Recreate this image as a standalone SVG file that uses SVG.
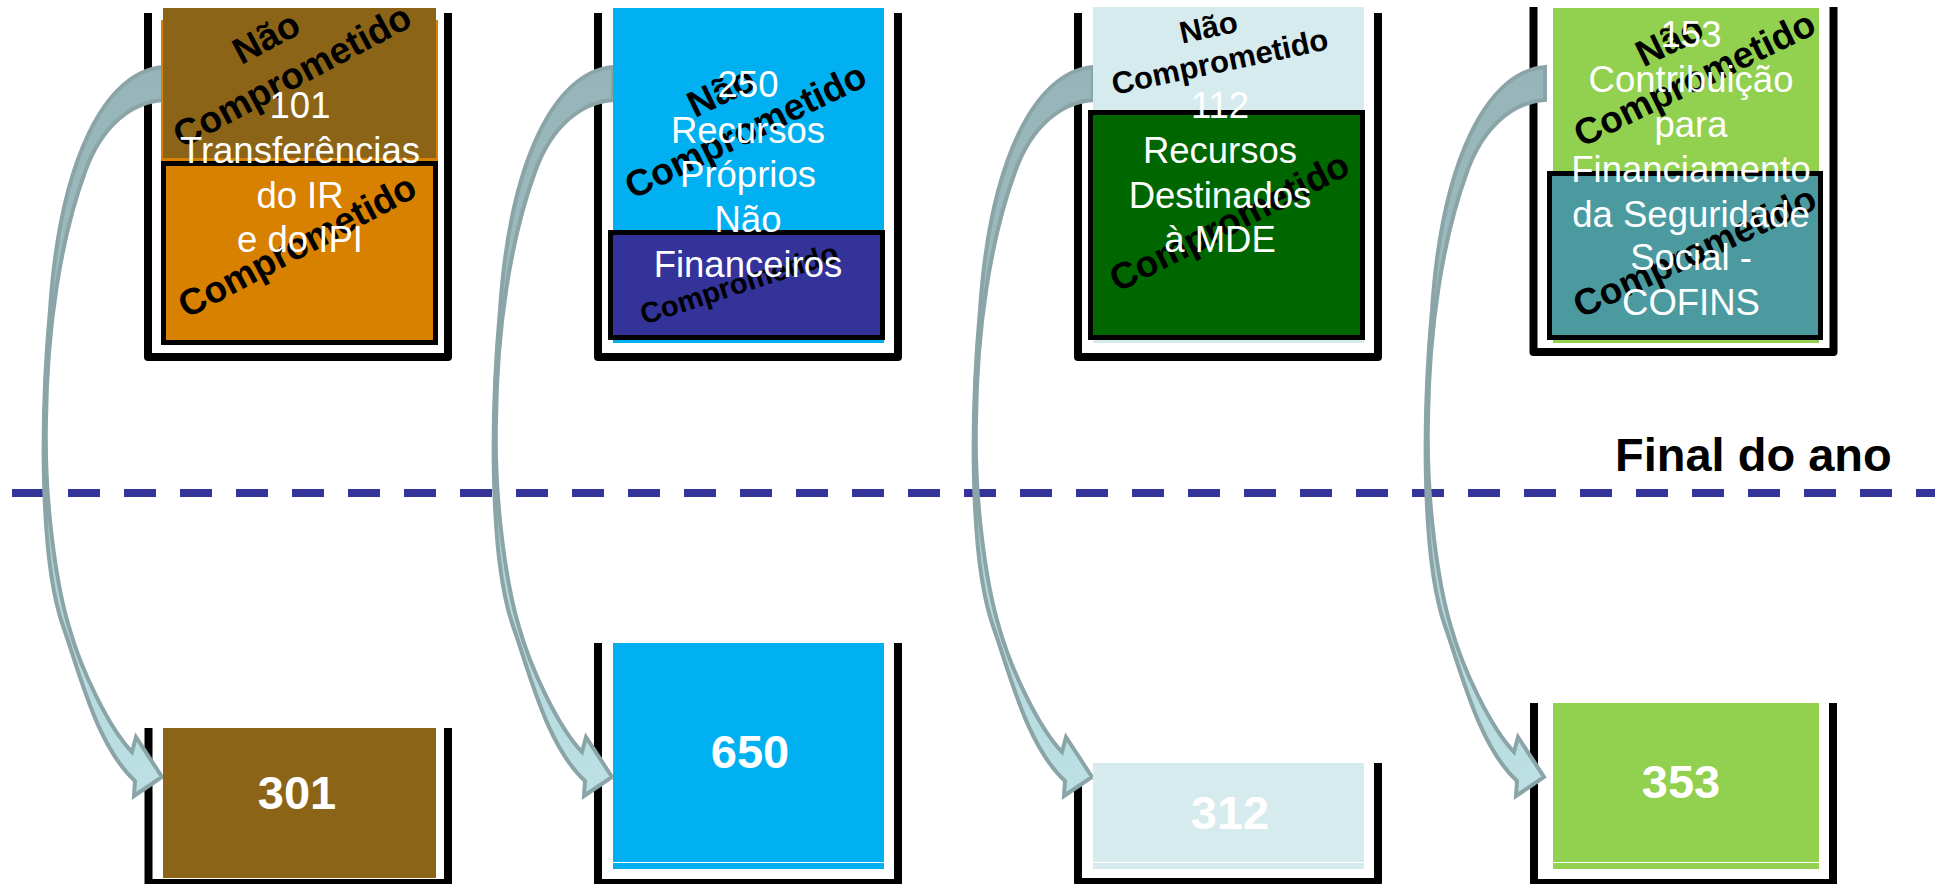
<svg xmlns="http://www.w3.org/2000/svg" xmlns:xlink="http://www.w3.org/1999/xlink" width="1939" height="884" viewBox="0 0 1939 884">
<style>
.wall{fill:none;stroke:#000;stroke-width:8;stroke-linejoin:round}
.box{stroke:#000;stroke-width:5}
.lbl{font-family:"Liberation Sans",Arial,sans-serif;font-size:36.5px;fill:#fff;text-anchor:middle}
.nc{font-family:"Liberation Sans",Arial,sans-serif;font-weight:bold;font-size:37px;fill:#000;text-anchor:middle}
.num{font-family:"Liberation Sans",Arial,sans-serif;font-weight:bold;font-size:47px;fill:#fff;text-anchor:middle}
.final{font-family:"Liberation Sans",Arial,sans-serif;font-weight:bold;font-size:47px;fill:#000}
.arrow{fill:url(#arrowGrad);stroke:#8AA4A7;stroke-width:4;stroke-linejoin:miter}
</style>
<defs>
<linearGradient id="arrowGrad" x1="0" y1="0" x2="0" y2="1">
<stop offset="0" stop-color="#97B5B8"/>
<stop offset="0.45" stop-color="#9FBFC3"/>
<stop offset="0.75" stop-color="#B4D9DD"/>
<stop offset="1" stop-color="#BCE0E4"/>
</linearGradient>
<path id="arrowShape" class="arrow" d="M163,67 C105,72 60,160 50,310 C40,420 40,560 63,626 C80,674 97,746 135,781 L134,796 L162,777 L136,737 L132,752 C109,728 81,670 69,627 C56,584 44,500 46,420 C47,330 60,240 85,172 C102,124 133,102 163,100 Z"/>
</defs>
<rect width="1939" height="884" fill="#fff"/>

<g id="walls">
<path class="wall" d="M148,13 V357 H448 V13"/>
<path class="wall" d="M598,13 V357 H898 V13"/>
<path class="wall" d="M1078,13 V357 H1378 V13"/>
<path class="wall" d="M1533.5,7 V352 H1833.5 V7"/>
<path class="wall" d="M148.5,728 V883 H448 V728"/>
<path class="wall" d="M598,643 V883 H898 V643"/>
<path class="wall" d="M1078,763 V882 H1378 V763"/>
<path class="wall" d="M1534,703 V883 H1833 V703"/>
</g>

<g id="divider">
<line x1="12" y1="493" x2="1935" y2="493" stroke="#333399" stroke-width="8" stroke-dasharray="32 24"/>
<text class="final" x="1615" y="471">Final do ano</text>
</g>

<g id="connectors">
<use xlink:href="#arrowShape"/>
<use xlink:href="#arrowShape" transform="translate(450,0)"/>
<use xlink:href="#arrowShape" transform="translate(930,0)"/>
<use xlink:href="#arrowShape" transform="translate(1382,0)"/>
</g>

<g id="node-ir-ipi">
<rect x="161" y="20" width="277" height="325" fill="#D88000"/>
<rect x="163" y="8" width="273" height="150" fill="#8B6418"/>
<rect class="box" x="163.5" y="163.5" width="272" height="179" fill="#D88000"/>
<text class="nc" transform="translate(298,87) rotate(-28)"><tspan x="-5" y="-46">Não</tspan><tspan x="0" y="0">Comprometido</tspan></text>
<text class="nc" transform="translate(303,257) rotate(-28)">Comprometido</text>
<text class="lbl"><tspan x="300" y="118">101</tspan><tspan x="300" y="163">Transferências</tspan><tspan x="300" y="208">do IR</tspan><tspan x="300" y="252">e do IPI</tspan></text>
</g>

<g id="node-recursos-proprios">
<rect x="613" y="8" width="271" height="335" fill="#00B0F0"/>
<rect class="box" x="610.5" y="232.5" width="272" height="105" fill="#333399"/>
<text class="nc" transform="translate(751,142) rotate(-26)"><tspan x="-5" y="-46">Não</tspan><tspan x="0" y="0">Comprometido</tspan></text>
<text class="nc" style="font-size:29px" transform="translate(742,293) rotate(-18)">Comprometido</text>
<text class="lbl"><tspan x="748" y="97">250</tspan><tspan x="748" y="143">Recursos</tspan><tspan x="748" y="187">Próprios</tspan><tspan x="748" y="232">Não</tspan><tspan x="748" y="277">Financeiros</tspan></text>
</g>

<g id="node-mde">
<rect x="1093" y="7" width="271" height="336" fill="#D6EBEE"/>
<rect class="box" x="1090.5" y="112.5" width="272" height="225" fill="#006600"/>
<text class="nc" style="font-size:31px" transform="translate(1222,72) rotate(-12)"><tspan x="-4" y="-36">Não</tspan><tspan x="0" y="0">Comprometido</tspan></text>
<text class="nc" transform="translate(1235,233) rotate(-27)">Comprometido</text>
<text class="lbl"><tspan x="1220" y="118">112</tspan><tspan x="1220" y="163">Recursos</tspan><tspan x="1220" y="208">Destinados</tspan><tspan x="1220" y="252">à MDE</tspan></text>
</g>

<g id="node-cofins">
<rect x="1553" y="8" width="266" height="335" fill="#92D050"/>
<rect class="box" x="1549.5" y="173.5" width="271" height="164" fill="#4A9A9F"/>
<text class="nc" transform="translate(1700,90) rotate(-26)"><tspan x="-6" y="-45">Não</tspan><tspan x="0" y="0">Comprometido</tspan></text>
<text class="nc" transform="translate(1700,263) rotate(-25)">Comprometido</text>
<text class="lbl"><tspan x="1691" y="47">153</tspan><tspan x="1691" y="92">Contribuição</tspan><tspan x="1691" y="137">para</tspan><tspan x="1691" y="182">Financiamento</tspan><tspan x="1691" y="227">da Seguridade</tspan><tspan x="1691" y="270">Social -</tspan><tspan x="1691" y="315">COFINS</tspan></text>
</g>

<g id="node-301">
<rect x="163" y="728" width="273" height="150" fill="#8B6418"/>
<text class="num" x="297" y="809">301</text>
</g>

<g id="node-650">
<rect x="613" y="643" width="271" height="226" fill="#00B0F0"/>
<line x1="613" y1="862.5" x2="884" y2="862.5" stroke="#fff" stroke-width="1"/>
<text class="num" x="750" y="768">650</text>
</g>

<g id="node-312">
<rect x="1093" y="763" width="271" height="106" fill="#D6EBEE"/>
<line x1="1093" y1="862.5" x2="1364" y2="862.5" stroke="#fff" stroke-width="1"/>
<text class="num" x="1230" y="829">312</text>
</g>

<g id="node-353">
<rect x="1553" y="703" width="266" height="166" fill="#92D050"/>
<line x1="1553" y1="862.5" x2="1819" y2="862.5" stroke="#fff" stroke-width="1"/>
<text class="num" x="1681" y="798">353</text>
</g>
</svg>
